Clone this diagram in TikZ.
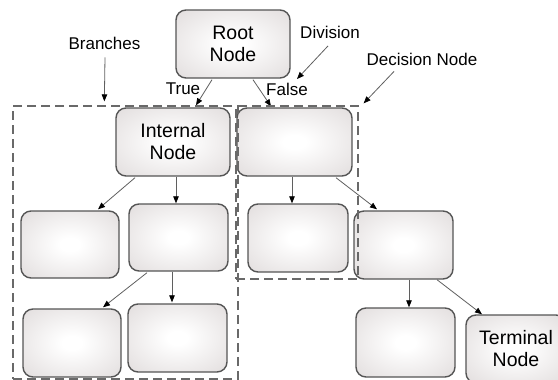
\documentclass[tikz,border=0pt]{standalone}
\usepackage{fontspec}
\setmainfont{Liberation Sans}
\usetikzlibrary{arrows.meta,calc}
\definecolor{boxedge}{RGB}{214,208,208}
\definecolor{boxline}{RGB}{85,85,85}
\definecolor{linkgray}{RGB}{95,95,95}
\definecolor{dashgray}{RGB}{105,105,105}
% soft white centre fading to a pale warm grey at the rim
\pgfdeclareradialshading{softbox}{\pgfpoint{0bp}{0bp}}{color(0bp)=(white); color(5bp)=(white); color(48bp)=(boxedge); color(50bp)=(boxedge)}

\begin{document}
\begin{tikzpicture}[x=1pt,y=-1pt,
  treebox/.style={draw=boxline, line width=1.4pt, rounded corners=10pt, shading=softbox,
    inner sep=0pt, align=center, font=\fontsize{19.5}{22}\selectfont, text=black},
  link/.style={draw=linkgray, line width=0.8pt, -{Triangle[length=7pt,width=5.5pt,color=black]}},
  note/.style={font=\fontsize{17}{20}\selectfont, inner sep=0pt, text=black},
  region/.style={draw=dashgray, line width=1.3pt, dash pattern=on 9pt off 5pt, inner sep=0pt}]

\useasboundingbox (0,0) rectangle (558,380);
\clip (0,0) rectangle (558,380);

% tree nodes
\node[treebox, minimum width=114pt, minimum height=68pt] (root) at (233,44) {Root\\Node};
\node[treebox, minimum width=114pt, minimum height=68pt] (internal) at (173,142) {Internal\\Node};
\node[treebox, minimum width=115pt, minimum height=68pt] (decision) at (294.5,142) {};
\node[treebox, minimum width=98pt, minimum height=67pt] (a1) at (70,244.5) {};
\node[treebox, minimum width=99pt, minimum height=67pt] (a2) at (178.5,237.5) {};
\node[treebox, minimum width=100pt, minimum height=68pt] (b1) at (298,238) {};
\node[treebox, minimum width=99pt, minimum height=68pt] (b2) at (403.5,245) {};
\node[treebox, minimum width=98pt, minimum height=68pt] (c1) at (72,343) {};
\node[treebox, minimum width=99pt, minimum height=68pt] (c2) at (177.5,338) {};
\node[treebox, minimum width=99pt, minimum height=69pt] (d1) at (405.5,342.5) {};
\node[treebox, minimum width=100pt, minimum height=68pt] (terminal) at (516,349) {Terminal\\Node};

% branches of the tree
\draw[link] ($(root.south)+(-21,1)$) -- ($(internal.north)+(23,-2)$);
\draw[link] ($(root.south)+(20,1)$) -- ($(decision.north)+(-23.5,-1)$);
\draw[link] ($(internal.south)+(-38,1)$) -- ($(a1.north)+(28,-1)$);
\draw[link] ($(internal.south)+(3,0)$) -- ($(a2.north)+(-2.5,0)$);
\draw[link] ($(a2.south)+(-31.5,1)$) -- ($(c1.north)+(31,-1)$);
\draw[link] ($(a2.south)+(-6.5,0)$) -- ($(c2.north)+(-5.5,-1)$);
\draw[link] ($(decision.south)+(-2.5,0)$) -- ($(b1.north)+(-6,0)$);
\draw[link] ($(decision.south)+(41.5,1)$) -- ($(b2.north)+(-26.5,-1)$);
\draw[link] ($(b2.south)+(5.5,0)$) -- ($(d1.north)+(3.5,0)$);
\draw[link] ($(b2.south)+(33.5,0)$) -- ($(terminal.north)+(-34,0)$);

% dashed groupings
\node[region, minimum width=225pt, minimum height=273pt] (leftregion) at (125.5,242.5) {};
\node[region, minimum width=122pt, minimum height=173pt] (decregion) at (297,192.5) {};

% edge labels and callouts
\node[note] (truelbl) at (183,88.5) {True};
\node[note] (falselbl) at (287,89) {False};
\node[note] (branches) at (104.5,43) {Branches};
\node[note] (division) at (330,32.5) {Division};
\node[note] (decnote) at (422,59) {Decision Node};

\coordinate (branchtip) at ($(leftregion.north west)+(92,-4)$);
\coordinate (divtip) at (297,79);
\coordinate (dectip) at ($(decregion.north east)+(5,-2)$);

\draw[link] ($(branches.south)+(0.5,8)$) -- (branchtip);
\draw[link] ($(division.south)+(-2,7)$) -- (divtip);
\draw[link] ($(decnote.south)+(-28,6)$) -- (dectip);
\end{tikzpicture}
\end{document}
